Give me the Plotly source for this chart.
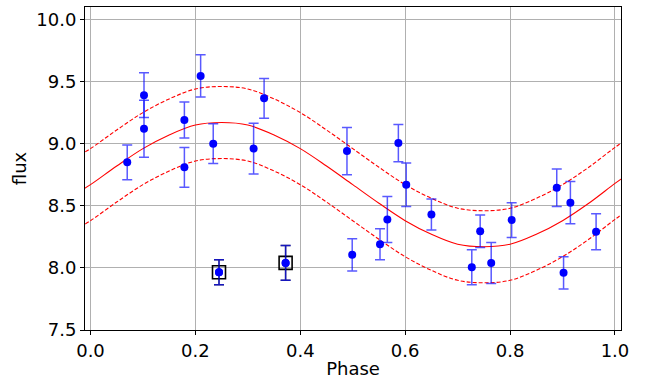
import plotly.graph_objects as go

# Observed data (phase, flux, error)
phase = [0.070, 0.102, 0.102, 0.179, 0.179, 0.210, 0.234, 0.245, 0.311, 0.331,
         0.372, 0.489, 0.499, 0.552, 0.566, 0.587, 0.602, 0.650, 0.727, 0.743,
         0.764, 0.803, 0.889, 0.902, 0.915, 0.964]
flux = [8.85, 9.12, 9.39, 9.19, 8.81, 9.545, 9.00, 7.965, 8.96, 9.365,
        8.04, 8.94, 8.105, 8.19, 8.39, 9.005, 8.67, 8.43, 8.005, 8.295,
        8.04, 8.385, 8.645, 7.96, 8.525, 8.29]
flux_err = [0.14, 0.23, 0.18, 0.145, 0.16, 0.17, 0.16, 0.10, 0.205, 0.16,
            0.14, 0.19, 0.13, 0.125, 0.185, 0.15, 0.175, 0.125, 0.14, 0.13,
            0.165, 0.14, 0.15, 0.13, 0.17, 0.145]

# Flagged outliers
out_phase = [0.245, 0.372]
out_flux = [7.965, 8.04]
out_err = [0.10, 0.14]

# Model curve and band
model_phase = [-0.02, 0.0, 0.05, 0.10, 0.15, 0.20, 0.25, 0.30, 0.35, 0.40, 0.45, 0.50,
               0.55, 0.60, 0.65, 0.70, 0.75, 0.80, 0.85, 0.90, 0.95, 1.00, 1.02]
model = [8.62, 8.67, 8.82, 8.96, 9.07, 9.15, 9.17, 9.15, 9.07, 8.96, 8.82, 8.67,
         8.52, 8.38, 8.27, 8.19, 8.17, 8.19, 8.27, 8.38, 8.52, 8.68, 8.74]
model_upper = [8.91, 8.96, 9.11, 9.25, 9.36, 9.44, 9.46, 9.44, 9.36, 9.25, 9.11, 8.96,
               8.81, 8.67, 8.56, 8.48, 8.46, 8.48, 8.56, 8.67, 8.81, 8.97, 9.03]
model_lower = [8.33, 8.38, 8.53, 8.67, 8.78, 8.86, 8.88, 8.86, 8.78, 8.67, 8.53, 8.38,
               8.23, 8.09, 7.98, 7.90, 7.88, 7.90, 7.98, 8.09, 8.23, 8.39, 8.45]

x_ticks = [0.0, 0.2, 0.4, 0.6, 0.8, 1.0]
x_ticklabels = ["0.0", "0.2", "0.4", "0.6", "0.8", "1.0"]
y_ticks = [7.5, 8.0, 8.5, 9.0, 9.5, 10.0]
y_ticklabels = ["7.5", "8.0", "8.5", "9.0", "9.5", "10.0"]

FONT = "DejaVu Sans"
FS = 18

fig = go.Figure()

for ys, dash in [(model_upper, "4px,2px"), (model, "solid"), (model_lower, "4px,2px")]:
    fig.add_trace(go.Scatter(x=model_phase, y=ys, mode="lines", line_shape="spline",
                             line=dict(color="#ff0000", width=1.1, dash=dash),
                             hoverinfo="skip", showlegend=False))

# Outlier squares with black error bars
fig.add_trace(go.Scatter(
    x=out_phase, y=out_flux, mode="markers",
    marker=dict(symbol="square-open", size=13, color="black", line=dict(width=1.6, color="black")),
    error_y=dict(type="data", array=out_err, visible=True, color="rgba(0,0,0,0.75)", thickness=1.5, width=5),
    showlegend=False))

# Data points with blue error bars
fig.add_trace(go.Scatter(
    x=phase, y=flux, mode="markers",
    marker=dict(symbol="circle", size=8, color="#0000ff"),
    error_y=dict(type="data", array=flux_err, visible=True, color="rgba(0,0,255,0.65)", thickness=1.5, width=5),
    showlegend=False))

# redraw outlier dots above
fig.add_trace(go.Scatter(x=out_phase, y=out_flux, mode="markers",
                         marker=dict(symbol="circle", size=8, color="#0000ff"),
                         showlegend=False))

axis_common = dict(showgrid=True, gridcolor="#b0b0b0", gridwidth=1,
                   showline=True, linecolor="black", linewidth=1, mirror=True,
                   ticks="outside", ticklen=4, tickcolor="black", zeroline=False,
                   tickfont=dict(family=FONT, size=FS, color="black"))

fig.update_xaxes(range=[-0.0105, 1.0115], tickvals=x_ticks, ticktext=x_ticklabels,
                 title=dict(text="Phase", font=dict(family=FONT, size=FS, color="black"), standoff=2),
                 **axis_common)
fig.update_yaxes(range=[7.5, 10.1], tickvals=y_ticks, ticktext=y_ticklabels,
                 title=dict(text="flux", font=dict(family=FONT, size=FS, color="black"), standoff=5),
                 **axis_common)

fig.update_layout(width=654, height=383, margin=dict(l=85, r=33, t=7, b=53),
                  paper_bgcolor="white", plot_bgcolor="white", showlegend=False)

fig.write_html("out.html", config={"displayModeBar": False},
               post_script="document.body.style.margin='0';document.body.style.padding='0';")
